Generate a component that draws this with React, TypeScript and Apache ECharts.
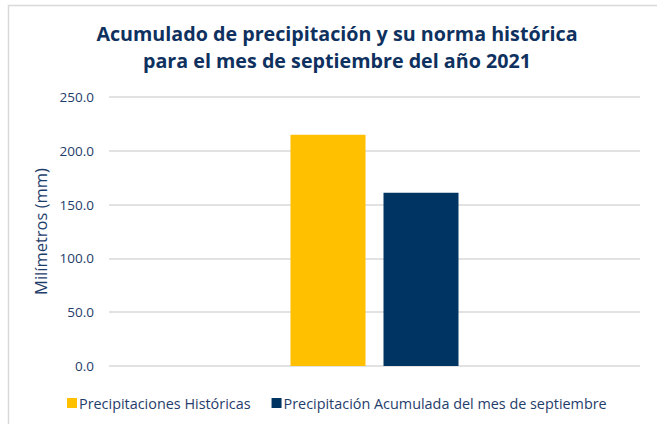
import React, { useEffect, useRef } from "react";
import * as echarts from "echarts";

const categories = ["Septiembre"];
const seriesNames = ["Precipitaciones Históricas", "Precipitación Acumulada del mes de septiembre"];
const historicas = [215.0];
const acumulada = [161.0];
const titleLines = ["Acumulado de precipitación y su norma histórica", "para el mes de septiembre del año 2021"];
const yAxisName = "Milímetros (mm)";

export default function App() {
  const ref = useRef<HTMLDivElement>(null);
  useEffect(() => {
    const chart = echarts.init(ref.current!, null, { renderer: "svg" });
    const font = "'Open Sans', 'Noto Sans', sans-serif";
    chart.setOption({
      animation: false,
      backgroundColor: "#ffffff",
      textStyle: { fontFamily: font },
      graphic: [
        {
          type: "rect",
          shape: { x: 8.5, y: 5.5, width: 800, height: 600 },
          style: { fill: "none", stroke: "#d9d9d9", lineWidth: 1.5 },
          silent: true,
        },
        {
          type: "text",
          x: 337,
          y: 20,
          silent: true,
          style: {
            text: titleLines.join("\n"),
            align: "center",
            verticalAlign: "top",
            fontFamily: font,
            fontSize: 19.7,
            fontWeight: "bold",
            fill: "#0f3160",
            lineHeight: 27,
          },
        },
      ],
      legend: {
        bottom: 9,
        left: 62,
        itemWidth: 10,
        itemHeight: 10,
        itemGap: 21,
        icon: "rect",
        textStyle: { fontFamily: font, fontSize: 14.4, color: "#1f3d6b", padding: [0, 0, 0, -3] },
        data: seriesNames,
      },
      grid: { left: 109, right: 17, top: 97, bottom: 58, containLabel: false },
      xAxis: {
        type: "category",
        data: categories,
        axisLine: { show: false },
        axisTick: { show: false },
        axisLabel: { show: false },
      },
      yAxis: {
        type: "value",
        min: 0,
        max: 250,
        interval: 50,
        name: yAxisName,
        nameLocation: "middle",
        nameGap: 57,
        nameTextStyle: { fontFamily: font, fontSize: 16.5, color: "#1f3d6b" },
        axisLine: { show: false },
        axisTick: { show: false },
        axisLabel: {
          fontFamily: font,
          fontSize: 13.5,
          color: "#1f3d6b",
          margin: 15,
          formatter: (v: number) => v.toFixed(1),
        },
        splitLine: { lineStyle: { color: "#d9d9d9", width: 1.5 } },
      },
      series: [
        {
          name: seriesNames[0],
          type: "bar",
          data: historicas,
          barWidth: 75,
          barGap: "24%",
          itemStyle: { color: "#FFC000" },
        },
        {
          name: seriesNames[1],
          type: "bar",
          data: acumulada,
          barWidth: 75,
          itemStyle: { color: "#003462" },
        },
      ],
    });
    return () => chart.dispose();
  }, []);
  return <div ref={ref} style={{ position: "absolute", left: 0, top: 0, width: 657, height: 424 }} />;
}
